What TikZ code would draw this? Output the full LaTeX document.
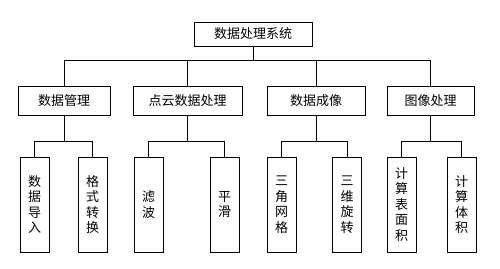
\documentclass[tikz,border=0pt]{standalone}
\usepackage{fontspec}
\newfontfamily\cjk{Noto Sans CJK SC}
\usetikzlibrary{calc}

\tikzset{
	box/.style={draw, line width=0.9pt, inner sep=0pt, align=center,
		font=\cjk\fontsize{13}{15.5}\selectfont},
	leaf/.style={box, minimum width=29, minimum height=95},
	link/.style={line width=0.9pt}
}

\begin{document}
\begin{tikzpicture}[x=1pt, y=-1pt]
	
	\useasboundingbox (0,0) rectangle (500,268);
	
	% --- Top ---
	\node[box, minimum width=118, minimum height=24] (sys) at (253,34) {数据处理系统};
	
	% --- Second row ---
	\node[box, minimum width=92,  minimum height=29] (m1) at (64,100.5)    {数据管理};
	\node[box, minimum width=109, minimum height=29] (m2) at (187.5,100.5) {点云数据处理};
	\node[box, minimum width=98,  minimum height=29] (m3) at (316,100.5)   {数据成像};
	\node[box, minimum width=87,  minimum height=29] (m4) at (430.5,100.5) {图像处理};
	
	% --- Leaves ---
	\node[leaf] (l1) at (34.5,204.5)  {数\\据\\导\\入};
	\node[leaf] (l2) at (92.5,204.5)  {格\\式\\转\\换};
	\node[leaf] (l3) at (148.5,204.5) {滤\\波};
	\node[leaf] (l4) at (224.5,204.5) {平\\滑};
	\node[leaf] (l5) at (281.5,204.5) {三\\角\\网\\格};
	\node[leaf] (l6) at (347,204.5)   {三\\维\\旋\\转};
	\node[leaf] (l7) at (401.5,204.5) {计\\算\\表\\面\\积};
	\node[leaf] (l8) at (461.5,204.5) {计\\算\\体\\积};
	
	% --- Connectors, top to second row ---
	\coordinate (hub) at ($(sys.south)+(0,14)$);
	\draw[link] (sys.south) -- (hub);
	\draw[link] (m1.north) |- (hub) -| (m4.north);
	\draw[link] (m2.north) -- (m2.north |- hub);
	\draw[link] (m3.north) -- (m3.north |- hub);
	
	% --- Connectors, second row to leaves ---
	\foreach \m/\a/\b in {m1/l1/l2, m2/l3/l4, m3/l5/l6, m4/l7/l8} {
		\coordinate (\m-hub) at ($(\m.south)+(0,26)$);
		\draw[link] (\m.south) -- (\m-hub);
		\draw[link] (\a.north) |- (\m-hub) -| (\b.north);
	}
	
\end{tikzpicture}
\end{document}
